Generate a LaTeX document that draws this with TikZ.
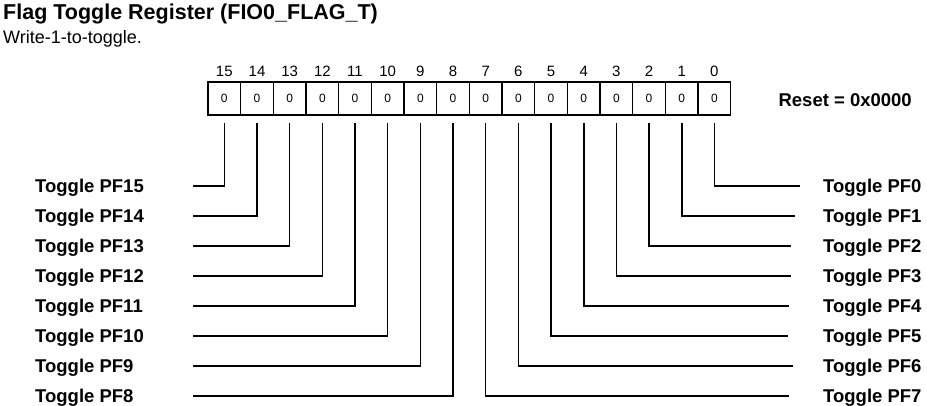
\documentclass[tikz,border=0pt]{standalone}
\usepackage{fontspec}
\setmainfont{Liberation Sans}
\begin{document}
\begin{tikzpicture}[x=1pt,y=-1pt,
  lead/.style={line width=1.6pt, line cap=rect},
  cell/.style={draw, line width=1.4pt, minimum width=32.67pt, minimum height=33pt, inner sep=0pt,
    font=\fontsize{12}{14}\selectfont},
  bitnum/.style={inner sep=0pt, font=\fontsize{15}{17}\selectfont},
  lbl/.style={inner sep=0pt, font=\fontsize{18.5}{21}\bfseries\selectfont},
  titlestyle/.style={inner sep=0pt, font=\fontsize{21.5}{24}\bfseries\selectfont},
  substyle/.style={inner sep=0pt, font=\fontsize{18}{21}\selectfont}]
\useasboundingbox (0,0) rectangle (927,405);
\node[titlestyle, anchor=base west] (title) at (3,19) {Flag Toggle Register (FIO0\_FLAG\_T)};
\node[substyle, anchor=base west] (sub) at (3,43) {Write-1-to-toggle.};
\foreach \b in {0,...,15} {
  \pgfmathsetmacro\cx{208+(15-\b)*32.67+16.335}
  \node[cell] (c\b) at (\cx,98.5) {0};
  \node[bitnum] (n\b) at (\cx,71.5) {\b};
}
\node[lbl, anchor=base east] (reset) at (912,106.5) {Reset = 0x0000};
% left side: bits 15..8
\foreach \b in {15,...,8} {
  \pgfmathsetmacro\ry{186+(15-\b)*30}
  \coordinate (e\b) at (194,\ry);
  \node[lbl, anchor=base west] (t\b) at (35,\ry+6.5) {Toggle PF\b};
  \draw[lead] ([yshift=-8pt]c\b.south) |- (e\b);
}
% right side: bits 0..7
\foreach \b/\ex in {0/799,1/794,2/790,3/790,4/788,5/787,6/792,7/788} {
  \pgfmathsetmacro\ry{186+\b*30}
  \coordinate (e\b) at (\ex,\ry);
  \node[lbl, anchor=base west] (t\b) at (823,\ry+6.5) {Toggle PF\b};
  \draw[lead] ([yshift=-8pt]c\b.south) |- (e\b);
}
\end{tikzpicture}
\end{document}
